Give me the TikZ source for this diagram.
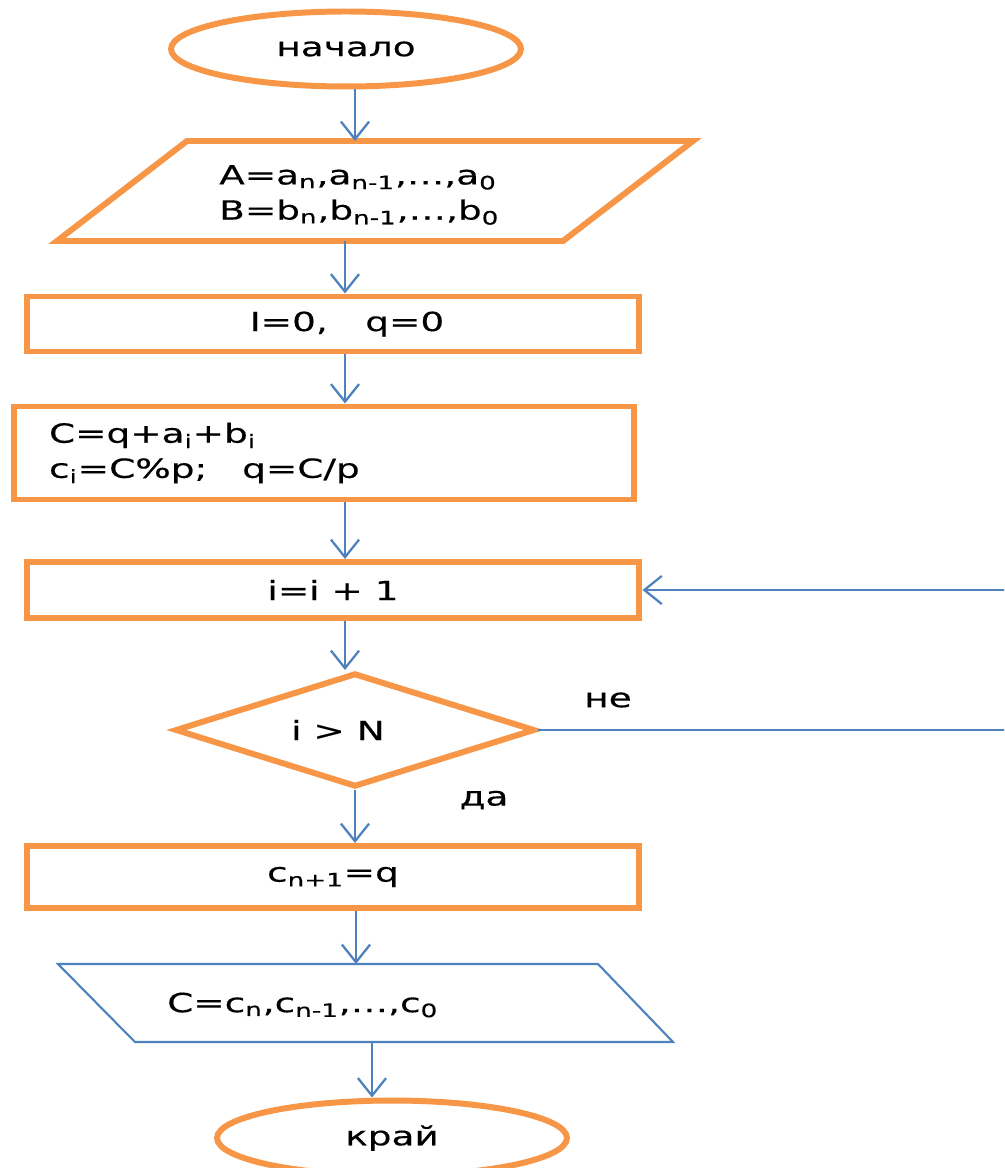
\documentclass[tikz,border=0pt]{standalone}
\usepackage{fontspec}
\setmainfont[FakeStretch=1.42,FakeBold=0.4]{DejaVu Sans}
\usetikzlibrary{shapes.geometric,arrows.meta}
\definecolor{frame}{RGB}{247,150,70}
\definecolor{link}{RGB}{79,129,189}

\begin{document}
\begin{tikzpicture}[x=0.02cm,y=-0.02cm,
    every node/.style={font=\fontsize{15}{20}\selectfont},
    term/.style={ellipse,draw=frame,line width=3.4pt,minimum width=7cm,minimum height=1.5cm},
    box/.style={rectangle,draw=frame,line width=3.4pt,minimum width=12.26cm},
    cond/.style={diamond,draw=frame,line width=3.4pt,minimum width=7.2cm,minimum height=2.28cm,inner sep=0pt},
    flow/.style={draw=link,line width=1.3pt,-{Straight Barb[length=10pt,width=16pt]}}]
    \useasboundingbox (0,0) rectangle (1004,1168);
    \clip (0,0) rectangle (1004,1168);

    \node[term] (start) at (346,49) {начало};

    \draw[frame,line width=3.4pt] (187,141) -- (693,141) -- (563,241) -- (57,241) -- cycle;
    \coordinate (inN) at (355,141);
    \coordinate (inS) at (345,241);
    \node[align=left,anchor=west] (inp) at (213,195)
        {A=a\textsubscript{n},a\textsubscript{n-1},…,a\textsubscript{0}\\
         B=b\textsubscript{n},b\textsubscript{n-1},…,b\textsubscript{0}};

    \node[box,minimum height=1.1cm] (init) at (333,324) {};
    \node (inittxt) at (347,324) {I=0,\hspace{0.75cm}q=0};
    \node[box,text width=11cm,inner xsep=0.7cm,minimum height=1.86cm,align=left] (calc) at (324,453)
        {C=q+a\textsubscript{i}+b\textsubscript{i}\\
         c\textsubscript{i}=C\%p;\hspace{0.7cm}q=C/p};
    \node[box,minimum height=1.12cm] (inc) at (333,590) {i=i + 1};
    \node[cond] (check) at (355,730) {};
    \node (checktxt) at (338,730) {i > N};
    \node (no) at (608,700) {не};
    \node (yes) at (484,800) {да};
    \node[box,minimum height=1.24cm] (fin) at (333,877) {c\textsubscript{n+1}=q};

    \draw[link,line width=1.2pt] (58,964) -- (598,964) -- (673,1042) -- (135,1042) -- cycle;
    \coordinate (outN) at (356,964);
    \coordinate (outS) at (372,1042);
    \node[anchor=west] (outp) at (161,1005) {C=c\textsubscript{n},c\textsubscript{n-1},…,c\textsubscript{0}};

    \node[term] (stop) at (392,1138) {край};
    \coordinate (back) at (1030,730);

    \draw[flow] (start.south -| inN) -- (inN);
    \draw[flow] (inS) -- (inS |- init.north);
    \draw[flow] (init.south -| inS) -- (calc.north -| inS);
    \draw[flow] (calc.south -| inS) -- (inc.north -| inS);
    \draw[flow] (inc.south -| inS) -- (inS |- check.north);
    \draw[flow] (check.south) -- (check.south |- fin.north);
    \draw[flow] (fin.south -| outN) -- (outN);
    \draw[flow] (outS) -- (outS |- stop.north);
    \draw[flow] (check.east) -- (back) |- (inc.east);
\end{tikzpicture}
\end{document}
